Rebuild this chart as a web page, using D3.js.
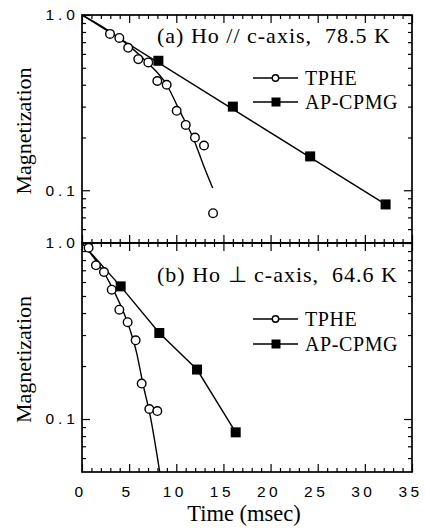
<!DOCTYPE html>
<html>
<head>
<meta charset="utf-8">
<script src="https://cdn.jsdelivr.net/npm/d3@7"></script>
<style>
  body { margin: 0; background: #fff; }
  svg { display: block; }
  .serif { font-family: "Liberation Serif", "Times New Roman", serif; fill: #000; }
  .tick text { font-family: "Liberation Sans", Arial, sans-serif; font-size: 15.5px; letter-spacing: 4px; fill: #000; }
  .tick line { stroke: #000; stroke-width: 1.2; }
</style>
</head>
<body>
<script>
// ---- data (time in msec, normalised magnetization) ----
const tpheA = [[2.97, 0.78], [3.96, 0.74], [4.9, 0.65], [5.97, 0.56], [7.03, 0.536],
  [7.99, 0.42], [8.98, 0.40], [10.04, 0.284], [11.0, 0.236], [11.98, 0.20],
  [12.94, 0.18], [13.9, 0.074]];
const cpmgA = [[8.1, 0.548], [16.0, 0.30], [24.2, 0.156], [32.2, 0.083]];
const tpheB = [[0.7, 0.94], [1.48, 0.747], [2.33, 0.684], [3.15, 0.543], [3.96, 0.418],
  [4.84, 0.355], [5.69, 0.28], [6.33, 0.159], [7.14, 0.114], [7.99, 0.111]];
const cpmgB = [[4.1, 0.567], [8.2, 0.308], [12.2, 0.191], [16.3, 0.084]];

// fitted curves, traced by eye
const fitTpheA = [[0, 1], [4.03, 0.733], [6.86, 0.54], [8.98, 0.40], [10.4, 0.281],
  [11.8, 0.198], [12.86, 0.14], [13.86, 0.103]];
const fitCpmgA = [[0, 1], [32.2, 0.083]];
const fitTpheB = [[0, 1], [3.32, 0.543], [5.09, 0.322], [5.8, 0.237], [6.5, 0.155],
  [7.21, 0.106], [8.27, 0.049]];
const fitCpmgB = [[0, 1], [4.1, 0.567], [8.2, 0.308], [12.2, 0.191], [16.3, 0.084]];

const xTicks = [0, 5, 10, 15, 20, 25, 30, 35];
const yMajor = [0.1, 1];
const yMajorLabels = ["0.1", "1.0"];
const yMinor = [0.06, 0.07, 0.08, 0.09, 0.2, 0.3, 0.4, 0.5, 0.6, 0.7, 0.8, 0.9];
const legendNames = ["TPHE", "AP-CPMG"];
const panelTitles = ["(a) Ho // c-axis,  78.5 K", "(b) Ho \u22A5 c-axis,  64.6 K"];

// ---- layout ----
width = 425;
height = 531;
left = 82;
right = 412;
major_len = 8;
minor_len = 4;

const svg = d3.select("body").append("svg")
  .attr("width", width)
  .attr("height", height);

x = d3.scaleLinear().domain([0, 35]).range([left, right]);

const panels = [
  { top: 15, bottom: 243, tphe: tpheA, cpmg: cpmgA, fitT: fitTpheA, fitC: fitCpmgA,
    title: panelTitles[0], titleY: 43, legY: [78, 102] },
  { top: 243, bottom: 472, tphe: tpheB, cpmg: cpmgB, fitT: fitTpheB, fitC: fitCpmgB,
    title: panelTitles[1], titleY: 282, legY: [319, 344] },
];

function yTickAxes(g, y, side, withLabels) {
  // ticks point inwards
  g.append("g").call(side(y).tickValues(yMinor).tickSize(-minor_len).tickFormat(""));
  g.append("g").call(side(y).tickValues(yMajor).tickSize(-major_len)
    .tickFormat(withLabels ? (d, i) => yMajorLabels[i] : "").tickPadding(7));
  g.selectAll(".domain").remove();
}

function xTickAxes(g, side, withLabels) {
  const minor = d3.range(0, 36).filter((d) => d % 5 !== 0);
  g.append("g").call(side(x).tickValues(minor).tickSize(-minor_len).tickFormat(""));
  g.append("g").call(side(x).tickValues(xTicks).tickSize(-major_len)
    .tickFormat(withLabels ? d3.format("d") : "").tickPadding(14));
  g.selectAll(".domain").remove();
}

panels.forEach(function (p, i) {
  const y = d3.scaleLog().domain([0.05, 1]).range([p.bottom, p.top]);
  const g = svg.append("g").attr("class", "panel");

  // left / right axes
  yTickAxes(g.append("g").attr("transform", `translate(${left},0)`), y, d3.axisLeft, true);
  yTickAxes(g.append("g").attr("transform", `translate(${right},0)`), y, d3.axisRight, false);
  // letter-spacing adds a trailing gap; pull labels back
  g.selectAll(".tick text").attr("dx", 4);

  // top / bottom axes
  xTickAxes(g.append("g").attr("transform", `translate(0,${p.top})`), d3.axisTop, false);
  const xb = g.append("g").attr("transform", `translate(0,${p.bottom})`);
  xTickAxes(xb, d3.axisBottom, i === 1);
  xb.selectAll(".tick text").attr("dx", -2).style("letter-spacing", "3.5px");

  // frame
  g.append("rect")
    .attr("x", left).attr("y", p.top)
    .attr("width", right - left).attr("height", p.bottom - p.top)
    .attr("fill", "none").attr("stroke", "#000").attr("stroke-width", 1.7);

  const clipId = "clip" + i;
  svg.append("clipPath").attr("id", clipId).append("rect")
    .attr("x", left).attr("y", p.top)
    .attr("width", right - left).attr("height", p.bottom - p.top);

  const line = d3.line().x((d) => x(d[0])).y((d) => y(d[1]));
  const plot = g.append("g").attr("clip-path", `url(#${clipId})`);
  plot.append("path").datum(p.fitC)
    .attr("d", line)
    .attr("fill", "none").attr("stroke", "#000").attr("stroke-width", 1.4);
  plot.append("path").datum(p.fitT)
    .attr("d", line.curve(d3.curveMonotoneX))
    .attr("fill", "none").attr("stroke", "#000").attr("stroke-width", 1.4);

  plot.selectAll("circle.pt").data(p.tphe).enter().append("circle")
    .attr("class", "pt")
    .attr("cx", (d) => x(d[0])).attr("cy", (d) => y(d[1]))
    .attr("r", 4.3)
    .attr("fill", "#fff").attr("stroke", "#000").attr("stroke-width", 1.4);
  plot.selectAll("rect.pt").data(p.cpmg).enter().append("rect")
    .attr("class", "pt")
    .attr("x", (d) => x(d[0]) - 5).attr("y", (d) => y(d[1]) - 5)
    .attr("width", 10).attr("height", 10)
    .attr("fill", "#000");

  // panel title
  g.append("text").attr("class", "serif")
    .attr("x", 157).attr("y", p.titleY)
    .attr("font-size", 22)
    .attr("letter-spacing", 1)
    .style("white-space", "pre")
    .text(p.title);

  // legend
  legendNames.forEach(function (name, k) {
    const ly = p.legY[k];
    g.append("line").attr("x1", 253).attr("x2", 298).attr("y1", ly).attr("y2", ly)
      .attr("stroke", "#000").attr("stroke-width", 1.3);
    if (k === 0) {
      g.append("circle").attr("cx", 275.5).attr("cy", ly).attr("r", 3.2)
        .attr("fill", "#fff").attr("stroke", "#000").attr("stroke-width", 1.4);
    } else {
      g.append("rect").attr("x", 271.5).attr("y", ly - 4.5).attr("width", 9).attr("height", 9)
        .attr("fill", "#000");
    }
    g.append("text").attr("class", "serif")
      .attr("x", 305).attr("y", ly + 6.5)
      .attr("font-size", 20)
      .attr("letter-spacing", 0.6)
      .text(name);
  });

  // y label
  g.append("text").attr("class", "serif")
    .attr("transform", `translate(31,${(p.top + p.bottom) / 2 + 2}) rotate(-90)`)
    .attr("text-anchor", "middle")
    .attr("font-size", 22)
    .text("Magnetization");
});

svg.append("text").attr("class", "serif")
  .attr("x", 244).attr("y", 521)
  .attr("text-anchor", "middle")
  .attr("font-size", 22.5)
  .text("Time (msec)");
</script>
</body>
</html>
